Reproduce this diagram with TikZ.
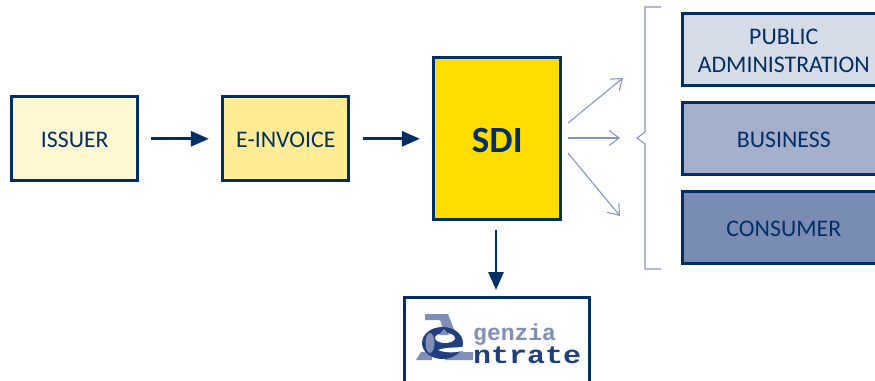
\documentclass[tikz,border=0pt]{standalone}
\usepackage{fontspec}
\setmainfont{Carlito}
\newfontfamily\logofont{Liberation Mono}[Scale=1]
\newcommand{\tdn}[1]{\raisebox{-1.2pt}[\height][\depth]{#1}}
\usetikzlibrary{arrows.meta,positioning}
\definecolor{navy}{HTML}{002F66}
\definecolor{lineblue}{HTML}{8595BC}
\definecolor{cA}{HTML}{FFF8D2}
\definecolor{cB}{HTML}{FFEC94}
\definecolor{cC}{HTML}{FFDD00}
\definecolor{cD}{HTML}{D5DBE7}
\definecolor{cE}{HTML}{A4AFCA}
\definecolor{cF}{HTML}{7A8CB2}
\definecolor{logoL}{HTML}{7F8FB5}
\definecolor{logoD}{HTML}{1F3F7F}
\tikzset{
  x=1pt,y=-1pt,
  box/.style={draw=navy,line width=2.8pt,text=navy,font=\fontsize{23.8}{28}\selectfont,align=center,inner sep=0pt,anchor=north west},
  flow/.style={draw=navy,line width=2.8pt,-{Triangle[length=18pt,width=15pt]}},
  fan/.style={draw=lineblue,line width=1.1pt,-{Straight Barb[length=10pt,width=15pt,line width=1.1pt]}},
  brace/.style={draw=lineblue,line width=1.1pt},
  logotxt/.style={inner sep=0pt,anchor=base west}
}
\begin{document}
\begin{tikzpicture}
\useasboundingbox (0,0) rectangle (875,380);
\clip (0,0) rectangle (875,380);
\begin{scope}[shift={(-0.6,-0.6)}]
\node[box,fill=cA,minimum width=126pt,minimum height=84pt] (issuer) at (11,96) {\tdn{ISSUER}};
\node[box,fill=cB,minimum width=126pt,minimum height=84pt] (inv) at (222,96) {\tdn{E-INVOICE}};
\node[box,fill=cC,minimum width=127pt,minimum height=162pt,font=\fontsize{37}{40}\selectfont\bfseries] (sdi) at (433,57) {\tdn{SDI}};
\node[box,fill=cD,minimum width=202pt,minimum height=72pt] (pa) at (682,13) {\tdn{PUBLIC}\\\tdn{ADMINISTRATION}};
\node[box,fill=cE,minimum width=202pt,minimum height=72pt] (bus) at (682,102) {\tdn{BUSINESS}};
\node[box,fill=cF,minimum width=202pt,minimum height=72pt] (con) at (682,191) {\tdn{CONSUMER}};
\node[draw=navy,line width=2.8pt,fill=white,minimum width=185pt,minimum height=110pt,inner sep=0pt,anchor=north west] (ae) at (404,297) {};
\end{scope}
\draw[flow] ([xshift=11.5pt]issuer.east) -- ([xshift=-12.5pt]inv.west);
\draw[flow] ([xshift=12.5pt]inv.east) -- ([xshift=-12.5pt]sdi.west);
\draw[flow] (496,230) coordinate (sdibot) -- (496,290) coordinate (aetop);
\coordinate (fa) at (568,123); \coordinate (fb) at (568,138); \coordinate (fc) at (568,153);
\coordinate (ta) at (623,78); \coordinate (tb) at (620,138); \coordinate (tc) at (620,216);
\draw[fan] (fa) -- (ta);
\draw[fan] (fb) -- (tb);
\draw[fan] (fc) -- (tc);
\draw[brace] (661,7) -- (645,7) -- (645,132) -- (637,138) -- (645,144) -- (645,269) -- (661,269);
% logo
\fill[logoL] (425,314) -- (448,314) -- (463,352) -- (473,352) -- (473,360) -- (445,360) -- (445,335) -- (440,320) -- (425,320) -- cycle;
\fill[logoL] (421,352) -- (432,352) -- (432,360) -- (416,360) -- cycle;
\fill[logoD] (442.5,343) ellipse [x radius=20.5,y radius=16];
\fill[logoL] (430,343) ellipse [x radius=4.5,y radius=10];
\fill[white] (445,338) ellipse [x radius=10,y radius=5];
\fill[logoL] (444,329) -- (449,335) -- (439,335) -- cycle;
\fill[white] (438,350) .. controls (444,347.5) and (455,347.5) .. (464,347) -- (464,350.5) .. controls (455,353) and (445,353) .. (438,350) -- cycle;
\node[logotxt,text=logoL,xscale=1.0,font=\logofont\bfseries\fontsize{23}{24}\selectfont] (gz) at (473,340) {genzia};
\node[logotxt,text=logoD,xscale=1.2,font=\logofont\bfseries\fontsize{25}{28}\selectfont] (nt) at (473,363) {ntrate};
\end{tikzpicture}
\end{document}
